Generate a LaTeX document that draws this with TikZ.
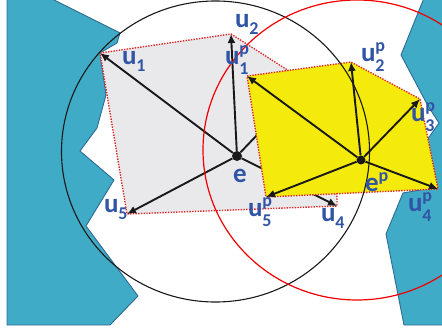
\documentclass[tikz,border=0pt]{standalone}
\usepackage{fontspec}
\setmainfont{Carlito}
\usetikzlibrary{arrows.meta}
\definecolor{teal1}{HTML}{3FABC6}
\definecolor{tealedge}{HTML}{2F6B96}
\definecolor{grayfill}{HTML}{E9E9EC}
\definecolor{yel}{HTML}{F4EA0C}
\definecolor{lab}{HTML}{3155A6}
\definecolor{dotred}{HTML}{DC2A2A}
\newcommand{\usub}[2]{#1{\raisebox{-7pt}{\fontsize{18}{18}\selectfont #2}}}
\newcommand{\ulab}[3]{#1\rlap{\raisebox{10pt}{\fontsize{18}{18}\selectfont #2}}{\raisebox{-10pt}{\fontsize{18}{18}\selectfont #3}}}
\tikzset{
  obstacle/.style={fill=teal1,draw=tealedge,line width=0.9pt,line join=round},
  region/.style={draw=dotred,dash pattern=on 1.4pt off 1.3pt,line width=1.4pt},
  vec/.style={draw=black!90,line width=1.9pt,-{Latex[length=9pt,width=8pt]}},
  lbl/.style={anchor=base west,inner sep=0pt,outer sep=0pt,text=lab,font=\fontsize{27}{27}\selectfont\bfseries},
  blackring/.style={draw=black!90,line width=1.1pt},
  redring/.style={draw=red!95!black,line width=1.2pt},
  dot/.style={circle,fill=black!90,inner sep=0pt,minimum size=10pt}
}
\begin{document}
\begin{tikzpicture}[x=1pt,y=-1pt]
\useasboundingbox (0,0) rectangle (442,331);
\begin{scope}
\clip (0,0) rectangle (442,331);
\draw[obstacle] (7,-2) -- (50,-2) -- (120,33) -- (117,43) -- (100,53) -- (106,95) -- (97,128) -- (80,151) -- (114,180) -- (86,226) -- (138,296) -- (110,325) -- (7,325) -- cycle;
\draw[obstacle] (424,-2) -- (401,55) -- (428,106) -- (439,123) -- (427,140) -- (420,190) -- (403,193) -- (386,234) -- (404,325) -- (446,325) -- (446,-2) -- cycle;
\end{scope}
\coordinate (u1) at (100,53);
\coordinate (u2) at (231,34);
\coordinate (u3) at (300,90);
\coordinate (u4) at (337,206);
\coordinate (u5) at (127,214);
\coordinate (p1) at (247,76);
\coordinate (p2) at (351,62);
\coordinate (p3) at (420,99);
\coordinate (p4) at (438,189);
\coordinate (p5) at (266,197);
\draw[region,fill=grayfill] (u1) -- (u2) -- (300,78) -- (337,197) -- (u4) -- (u5) -- cycle;
\node[dot] (e) at (237,156) {};
\draw[vec] (e) -- (u1);
\draw[vec] (e) -- (u2);
\draw[vec] (e) -- (u4);
\draw[vec] (e) -- (u5);
\draw[vec] (e) -- (u3);
\draw[region,fill=yel] (p1) -- (p2) -- (p3) -- (p4) -- (p5) -- cycle;
\node[dot,minimum size=9pt] (ep) at (361,160) {};
\draw[vec] (ep) -- (p1);
\draw[vec] (ep) -- (p2);
\draw[vec] (ep) -- (p3);
\draw[vec] (ep) -- (p4);
\draw[vec] (ep) -- (p5);
\draw[blackring] (215.5,151.5) ellipse [x radius=154,y radius=150.5];
\begin{scope}
\clip (0,0) rectangle (442,331);
\draw[redring] (357,150) ellipse [x radius=154,y radius=150];
\end{scope}
\node[lbl] (lu1) at (122,65) {\usub{u}{1}};
\node[lbl] (lu2) at (235,28) {\usub{u}{2}};
\node[lbl] (lu4) at (321,222) {\usub{u}{4}};
\node[lbl] (lu5) at (104,213) {\usub{u}{5}};
\node[lbl] (lp1) at (225,65) {\ulab{u}{p}{1}};
\node[lbl] (lp2) at (361,62) {\ulab{u}{p}{2}};
\node[lbl] (lp3) at (411,122) {\ulab{u}{p}{3}};
\node[lbl] (lp4) at (408,212) {\ulab{u}{p}{4}};
\node[lbl] (lp5) at (248,217) {\ulab{u}{p}{5}};
\node[lbl] (le) at (233,183) {e};
\node[lbl] (lep) at (365,192) {e\raisebox{10pt}{\fontsize{18}{18}\selectfont p}};
\end{tikzpicture}
\end{document}
